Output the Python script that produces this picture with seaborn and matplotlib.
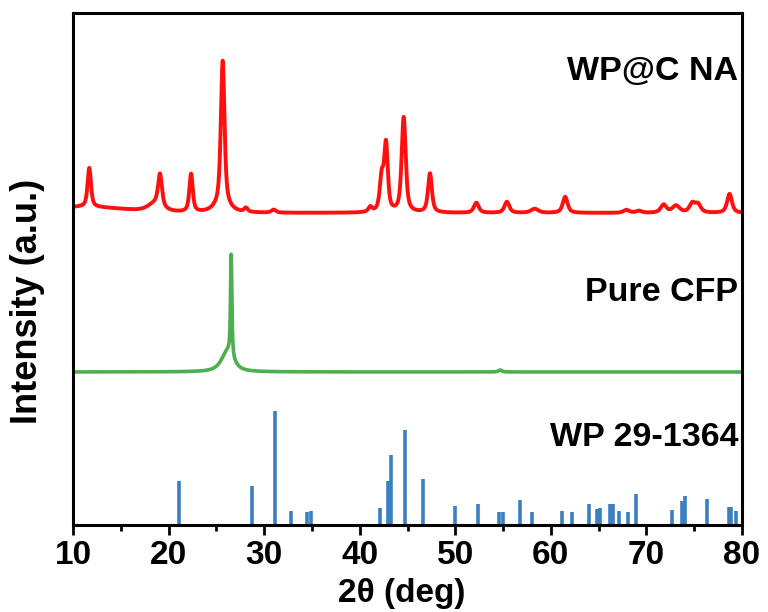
import numpy as np
import pandas as pd
import matplotlib
matplotlib.use("Agg")
import matplotlib.pyplot as plt
import seaborn as sns

# ---- WP@C NA pattern: peak table (2theta, height, FWHM) on a flat background ----
wpc_pos = [11.7, 18.6, 19.1, 22.35, 25.6, 25.66, 28.1, 31.0, 41.1, 42.3, 42.75,
           44.6, 47.35, 52.2, 55.4, 58.3, 61.5, 67.9, 69.2, 71.8, 73.1, 74.8, 75.4, 78.7]
wpc_height = [39, 8, 32, 38, 8, 144, 4, 3, 5, 33, 66,
              95, 39, 10, 11, 4, 16, 3, 2, 8, 7, 9, 8, 19]
wpc_fwhm = [0.42, 1.8, 0.48, 0.42, 1.8, 0.45, 0.45, 0.55, 0.45, 0.48, 0.45,
            0.5, 0.48, 0.6, 0.6, 0.9, 0.6, 0.7, 0.7, 0.7, 0.9, 0.7, 0.7, 0.6]
wpc_background = 312
wpc_hump = (11.0, 6, 10.0)  # centre, height, FWHM of the low-angle amorphous rise

# ---- Pure CFP pattern: graphitic (002) reflection ----
cfp_pos = [26.15, 26.55, 54.7]
cfp_height = [20, 102, 2]
cfp_fwhm = [1.5, 0.17, 0.4]
cfp_background = 153

# ---- WP reference card 29-1364 (2theta, relative intensity) ----
ref_pos = [21.1, 28.7, 31.1, 32.8, 34.5, 34.9, 42.1, 43.0, 43.3, 44.7, 46.6,
           50.0, 52.4, 54.6, 55.0, 56.8, 58.0, 61.2, 62.2, 64.0, 64.8, 65.1,
           66.2, 66.5, 67.1, 68.1, 68.9, 72.7, 73.7, 74.0, 76.3, 78.6, 78.9, 79.4]
ref_int = [39, 34, 100, 12, 11, 12, 15, 39, 61, 83, 40,
           17, 18, 11, 11, 22, 11, 12, 11, 18, 14, 15,
           18, 18, 12, 11, 27, 13, 21, 25, 23, 16, 16, 12]
ref_scale = 1.14

labels = ["WP@C NA", "Pure CFP", "WP 29-1364"]
label_y = [453, 232, 87]

x_ticks = [10, 20, 30, 40, 50, 60, 70, 80]


def pseudo_voigt(x, c, h, w, eta=0.65):
    g = np.exp(-4 * np.log(2) * ((x - c) / w) ** 2)
    l = 1.0 / (1.0 + 4 * ((x - c) / w) ** 2)
    return h * (eta * l + (1 - eta) * g)


two_theta = np.linspace(10, 80, 7001)

wpc = np.full_like(two_theta, wpc_background, dtype=float)
wpc += pseudo_voigt(two_theta, *wpc_hump, eta=0.0)
for c, h, w in zip(wpc_pos, wpc_height, wpc_fwhm):
    wpc += pseudo_voigt(two_theta, c, h, w)

cfp = np.full_like(two_theta, cfp_background, dtype=float)
for c, h, w in zip(cfp_pos, cfp_height, cfp_fwhm):
    cfp += pseudo_voigt(two_theta, c, h, w, eta=0.8)

df = pd.DataFrame({"two_theta": two_theta, "wpc": wpc, "cfp": cfp})

sns.set_theme(style="ticks")
plt.rcParams["font.family"] = ["Liberation Sans", "DejaVu Sans"]
plt.rcParams["font.weight"] = "bold"
plt.rcParams["text.color"] = "black"
plt.rcParams["axes.labelcolor"] = "black"
plt.rcParams["xtick.color"] = "black"
plt.rcParams["xtick.labelcolor"] = "black"

fig = plt.figure(figsize=(7.68, 6.12), dpi=100)
ax = fig.add_axes([0.0951, 0.1422, 0.8710, 0.8366])

sns.lineplot(data=df, x="two_theta", y="wpc", ax=ax, color="#ff1010", linewidth=2.8)
sns.lineplot(data=df, x="two_theta", y="cfp", ax=ax, color="#4caf50", linewidth=2.6)
ax.vlines(ref_pos, 0, np.array(ref_int) * ref_scale, color="#3a7fc1", linewidth=2.6)

for text, y in zip(labels, label_y):
    ax.text(79.6, y, text, ha="right", va="center", fontsize=24.5, fontweight="bold",
            color="black")

ax.set_xlim(10, 80)
ax.set_ylim(0, 512)
ax.set_xticks(x_ticks)
ax.set_xticks(np.arange(15, 80, 10), minor=True)
ax.set_yticks([])
ax.set_xlabel("2θ (deg)", fontsize=24, fontweight="bold")
ax.set_ylabel("Intensity (a.u.)", fontsize=26, fontweight="bold")
ax.xaxis.set_label_coords(0.491, -0.104)
ax.yaxis.set_label_coords(-0.042, 0.4375)

ax.tick_params(axis="x", which="major", direction="out", length=7, width=2,
               labelsize=24, pad=4, color="black", labelcolor="black")
ax.tick_params(axis="x", which="minor", direction="out", length=4, width=2,
               color="black")
for lab in ax.get_xticklabels():
    lab.set_fontweight("bold")
for side in ["left", "right", "top", "bottom"]:
    ax.spines[side].set_visible(True)
    ax.spines[side].set_linewidth(2.2)
    ax.spines[side].set_color("black")

fig.savefig("out.png", dpi=100)
